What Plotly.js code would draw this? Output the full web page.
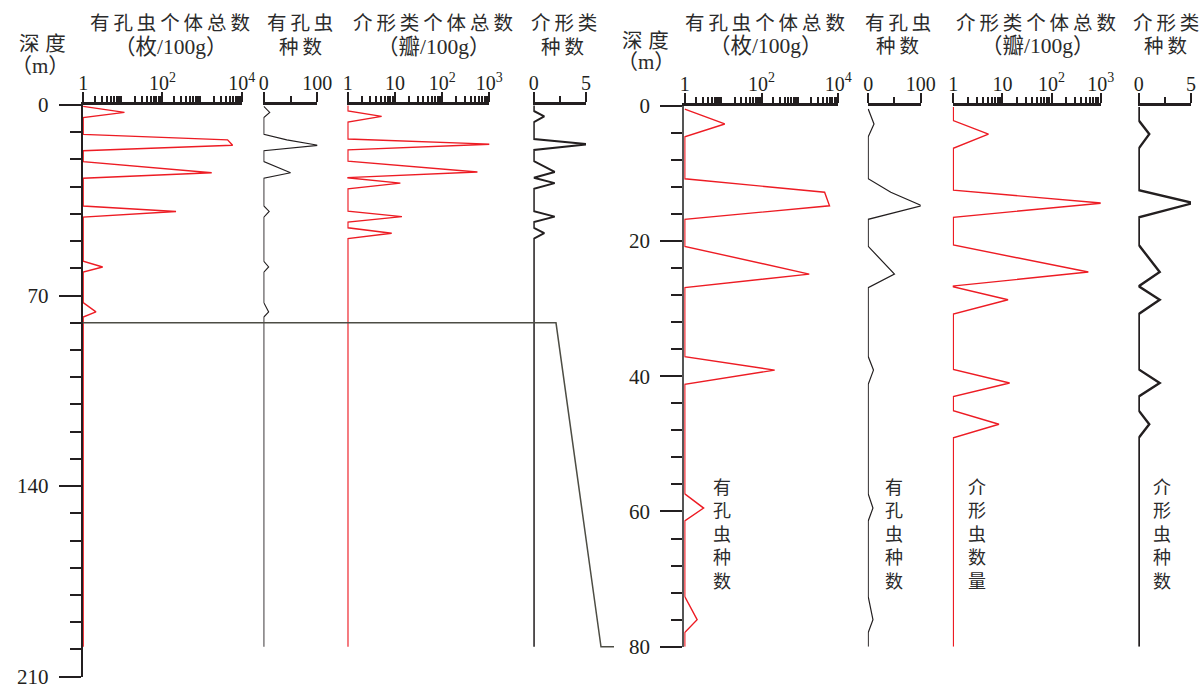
<!DOCTYPE html>
<html>
<head>
<meta charset="utf-8">
<script src="https://cdn.plot.ly/plotly-3.0.1.min.js"></script>
<style>
  html, body { margin: 0; padding: 0; background: #fff; }
  #chart { width: 1204px; height: 688px; }
</style>
</head>
<body>
<div id="chart"></div>
<script>
// Foraminifera samples: depth (m), total count (per 100 g), number of species
const foramDepth   = [0.5, 2.7, 4.6, 10.8, 12.8, 14.8, 16.8, 20.8, 24.9, 26.9, 37.1, 39.1, 41.2, 57.4, 59.5, 61.4, 72.6, 76.0, 77.9];
const foramTotal   = [1, 11, 1, 1, 4400, 5900, 1, 1, 1750, 1, 1, 220, 1, 1, 3.1, 1, 1, 2.1, 1];
const foramSpecies = [0, 11, 0, 0, 43, 102, 0, 0, 50, 0, 0, 10, 0, 0, 9, 0, 0, 9, 0];

// Ostracod samples: depth (m), total valves (per 100 g), number of species
const ostraDepth   = [0.2, 2.2, 4.2, 6.3, 12.5, 14.4, 16.5, 20.6, 24.6, 26.7, 28.7, 30.8, 39.0, 41.0, 43.0, 45.1, 47.1, 49.1];
const ostraTotal   = [1, 1, 5.2, 1, 1, 1100, 1, 1, 560, 0.9, 13, 1, 1, 14, 1, 1, 8.5, 1];
const ostraSpecies = [0, 0, 1, 0, 0, 5.2, 0, 0, 2, 0, 2, 0, 0, 2, 0, 0, 1, 0];

const wellBottom   = 199;  // base of the logged section (m)
const detailBottom = 80;   // lower limit of the enlarged interval (m)

// Axis ticks and labels
const depthTicksFull     = [0, 70, 140, 210];
const depthTicksDetail   = [0, 20, 40, 60, 80];
const foramTotalTicks    = [1, 100, 10000];
const foramTotalLabels   = ['1', '10<sup>2</sup>', '10<sup>4</sup>'];
const foramTotalUnlabel  = [10, 1000];
const ostraTotalTicks    = [1, 10, 100, 1000];
const ostraTotalLabels   = ['1', '10', '10<sup>2</sup>', '10<sup>3</sup>'];
const foramSpeciesTicks  = [0, 100];
const ostraSpeciesTicks  = [0, 5];

const W = 1204, H = 688;
const px = v => v / W;
const py = v => 1 - v / H;

const INK = '#231f20';
const RED = '#ed1c24';
const NUM_FONT = 'Liberation Serif, Times New Roman, serif';
const CJK_FONT = 'Liberation Serif, Noto Sans CJK SC, serif';

// log minor ticks 2..9 within each decade
function logMinor(decades) {
  const out = [];
  for (let d = 0; d < decades; d++) {
    for (let m = 2; m <= 9; m++) out.push(m * Math.pow(10, d));
  }
  return out;
}

const minorTicks = vals => ({
  tickmode: 'array', tickvals: vals, ticks: 'outside',
  ticklen: 6, tickwidth: 2, tickcolor: INK, showgrid: false
});

function topAxis(domainPx, anchor, opts) {
  const ax = {
    domain: [px(domainPx[0]), px(domainPx[1])],
    anchor: anchor,
    side: 'top',
    showline: true, linewidth: 3, linecolor: INK,
    showgrid: false, zeroline: false,
    ticks: 'outside', ticklen: 10, tickwidth: 2, tickcolor: INK,
    ticklabelstandoff: -6,
    ticklabeloverflow: 'allow',
    tickfont: { family: NUM_FONT, size: 20, color: INK },
    tickmode: 'array',
    fixedrange: true
  };
  return Object.assign(ax, opts);
}

function logAxis(domainPx, anchor, decades, ticks, labels) {
  return topAxis(domainPx, anchor, {
    type: 'log',
    range: [-0.012, decades],
    tickvals: ticks, ticktext: labels,
    minor: minorTicks(logMinor(decades))
  });
}

// extra decade ticks (no labels) laid over a log axis
function decadeOverlay(base, anchor, decades, ticks) {
  return {
    overlaying: base, anchor: anchor, side: 'top', type: 'log',
    range: [-0.012, decades],
    showline: false, showgrid: false, zeroline: false,
    tickmode: 'array', tickvals: ticks, showticklabels: false,
    ticks: 'outside', ticklen: 10, tickwidth: 2, tickcolor: INK,
    fixedrange: true
  };
}

function linAxis(domainPx, anchor, ticks, pad) {
  return topAxis(domainPx, anchor, {
    type: 'linear',
    range: [ticks[0] - pad, ticks[1]],
    tickvals: ticks, ticktext: ticks.map(String),
    minor: minorTicks([(ticks[0] + ticks[1]) / 2])
  });
}

function curve(x, y, xa, ya, color, width) {
  return {
    type: 'scatter', mode: 'lines', x: x, y: y,
    xaxis: xa, yaxis: ya, hoverinfo: 'skip',
    line: { color: color, width: width, shape: 'linear' }
  };
}

const fDepthFull = foramDepth.concat([wellBottom]);
const oDepthFull = ostraDepth.concat([wellBottom]);
const fDepthDet  = foramDepth.concat([detailBottom]);
const oDepthDet  = ostraDepth.concat([detailBottom]);

const data = [
  // full section
  curve(foramTotal.concat([1]),   fDepthFull, 'x',  'y',  RED, 1.4),
  curve(foramSpecies.concat([0]), fDepthFull, 'x2', 'y',  INK, 1.1),
  curve(ostraTotal.concat([1]),   oDepthFull, 'x3', 'y',  RED, 1.4),
  curve(ostraSpecies.concat([0]), oDepthFull, 'x4', 'y',  INK, 2),
  // enlarged 0–80 m interval
  curve(foramTotal.concat([1]),   fDepthDet,  'x5', 'y2', RED, 1.4),
  curve(foramSpecies.concat([0]), fDepthDet,  'x6', 'y2', INK, 1.2),
  curve(ostraTotal.concat([1]),   oDepthDet,  'x7', 'y2', RED, 1.4),
  curve(ostraSpecies.concat([0]), oDepthDet,  'x8', 'y2', INK, 2.4)
];

function depthAxis(domainTop, domainBottom, anchor, maxDepth, ticks, minorStep, lineColor) {
  return {
    domain: [py(domainBottom), py(domainTop)],
    anchor: anchor,
    range: [maxDepth, 0],
    showline: true, linewidth: 2, linecolor: lineColor,
    showgrid: false, zeroline: false,
    ticks: 'outside', ticklen: 22, tickwidth: 2, tickcolor: INK,
    tickmode: 'array', tickvals: ticks, ticktext: ticks.map(String),
    ticklabelstandoff: 6,
    ticklabeloverflow: 'allow',
    tickfont: { family: NUM_FONT, size: 21, color: INK },
    minor: { dtick: minorStep, tick0: 0, ticks: 'outside', ticklen: 11, tickwidth: 2, tickcolor: INK, showgrid: false },
    fixedrange: true
  };
}

// spreads CJK header characters a little apart
const spaced = (s, gap) => Array.from(s).join(gap || '\u2009');

function label(text, xPx, yPx, size, color) {
  return {
    text: text, x: px(xPx), y: py(yPx), xref: 'paper', yref: 'paper',
    xanchor: 'center', yanchor: 'middle', showarrow: false,
    font: { family: CJK_FONT, size: size || 19.5, color: color || '#2b2b2b' }
  };
}

const headers = [
  label(spaced('深度', '\u2009\u200a'), 42, 44, 20.5),
  label('（m）', 40, 66, 21),
  label(spaced('有孔虫个体总数'), 170, 24),
  label('（枚/100g）', 170, 47, 21.5),
  label(spaced('有孔虫'), 300, 24),
  label(spaced('种数'), 300, 47),
  label(spaced('介形类个体总数'), 433, 24),
  label('（瓣/100g）', 433, 47, 21.5),
  label(spaced('介形类'), 564, 24),
  label(spaced('种数'), 562, 47),

  label(spaced('深度', '\u2009\u200a'), 645, 41, 20.5),
  label('（m）', 646, 62, 21),
  label(spaced('有孔虫个体总数'), 765, 24),
  label('（枚/100g）', 765, 46, 21.5),
  label(spaced('有孔虫'), 898, 24),
  label(spaced('种数'), 898, 46),
  label(spaced('介形类个体总数'), 1036, 24),
  label('（瓣/100g）', 1037, 46, 21.5),
  label(spaced('介形类'), 1166, 24),
  label(spaced('种数'), 1165, 46),

  // vertical captions inside the enlarged columns
  label('有<br>孔<br>虫<br>种<br>数', 722, 535, 18),
  label('有<br>孔<br>虫<br>种<br>数', 894, 535, 18),
  label('介<br>形<br>虫<br>数<br>量', 977, 535, 18),
  label('介<br>形<br>虫<br>种<br>数', 1162, 535, 18)
];

// link from 80 m on the full section to the base of the enlarged interval
const linkShape = {
  type: 'path', xref: 'paper', yref: 'y',
  path: 'M ' + px(82.7) + ',' + detailBottom +
        ' L ' + px(556) + ',' + detailBottom +
        ' L ' + px(601) + ',' + wellBottom +
        ' L ' + px(614) + ',' + wellBottom,
  line: { color: '#4d4d44', width: 1.5 }
};

const layout = {
  width: W, height: H,
  margin: { l: 0, r: 0, t: 0, b: 0 },
  paper_bgcolor: '#ffffff', plot_bgcolor: 'rgba(0,0,0,0)',
  showlegend: false,
  xaxis:  logAxis([82.7, 241.7], 'y', 4, foramTotalTicks, foramTotalLabels),
  xaxis2: linAxis([263.3, 317.3], 'y', foramSpeciesTicks, 1),
  xaxis3: logAxis([347.3, 489.3], 'y', 3, ostraTotalTicks, ostraTotalLabels),
  xaxis4: linAxis([533.3, 586], 'y', ostraSpeciesTicks, 0.05),
  xaxis5: logAxis([684.3, 838.3], 'y2', 4, foramTotalTicks, foramTotalLabels),
  xaxis6: linAxis([867.7, 920.7], 'y2', foramSpeciesTicks, 1),
  xaxis7: logAxis([952.7, 1100.7], 'y2', 3, ostraTotalTicks, ostraTotalLabels),
  xaxis8: linAxis([1138.3, 1191], 'y2', ostraSpeciesTicks, 0.05),
  xaxis9:  decadeOverlay('x',  'y',  4, foramTotalUnlabel),
  xaxis10: decadeOverlay('x5', 'y2', 4, foramTotalUnlabel),
  yaxis:  depthAxis(105, 676.7, 'x', 210, depthTicksFull, 10, INK),
  yaxis2: depthAxis(105.7, 646.7, 'x5', detailBottom, depthTicksDetail, 4, '#555555'),
  annotations: headers,
  shapes: [linkShape]
};

Plotly.newPlot('chart', data, layout, { staticPlot: true, displayModeBar: false });
</script>
</body>
</html>
